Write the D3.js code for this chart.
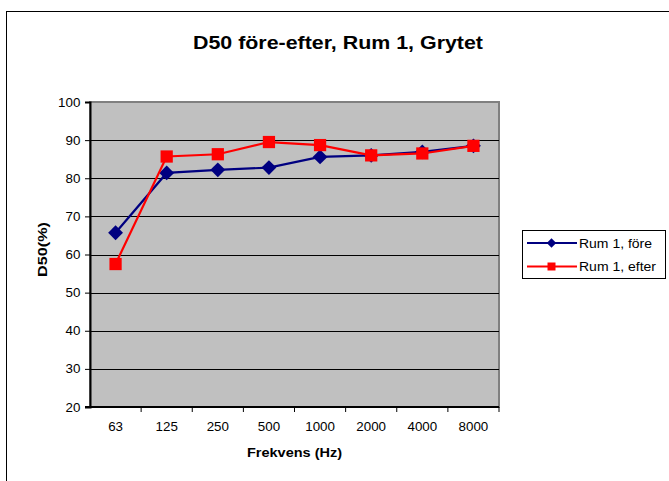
<!DOCTYPE html>
<html>
<head>
<meta charset="utf-8">
<script src="https://cdn.jsdelivr.net/npm/d3@7"></script>
<style>
  html, body { margin: 0; padding: 0; background: #fff; }
  svg { display: block; }
  text { font-family: Arial, "Liberation Sans", sans-serif; fill: #000; }
</style>
</head>
<body>
<svg id="chart" width="669" height="481"></svg>
<script>
// Frequency bands (Hz)
const categories = ["63", "125", "250", "500", "1000", "2000", "4000", "8000"];
// D50 (%) per band
const foreValues  = [65.7, 81.4, 82.2, 82.8, 85.6, 86.0, 86.9, 88.5];
const efterValues = [57.5, 85.7, 86.3, 89.5, 88.7, 86.0, 86.5, 88.5];
const seriesNames = ["Rum 1, före", "Rum 1, efter"];
const yTicks = [20, 30, 40, 50, 60, 70, 80, 90, 100];

const svg = d3.select("#chart");
const TXT = 12.5;   // base text size
const WIDE = 1.07;  // horizontal stretch of the label face

// Outer chart frame
svg.append("rect")
  .attr("x", 6.5).attr("y", 11.5)
  .attr("width", 700).attr("height", 500)
  .attr("fill", "#fff").attr("stroke", "#000").attr("stroke-width", 1);

const plot = { left: 90, top: 102, right: 499, bottom: 407 };

const x = d3.scaleBand().domain(categories).range([plot.left, plot.right]).padding(0);
const y = d3.scaleLinear().domain([20, 100]).range([plot.bottom, plot.top]);

// Plot background
svg.append("rect")
  .attr("x", plot.left).attr("y", plot.top)
  .attr("width", plot.right - plot.left).attr("height", plot.bottom - plot.top)
  .attr("fill", "#c0c0c0").attr("stroke", "#808080").attr("stroke-width", 2);

// Horizontal gridlines
svg.append("g")
  .selectAll("line")
  .data(yTicks.filter(t => t > 20 && t < 100))
  .join("line")
  .attr("x1", plot.left).attr("x2", plot.right)
  .attr("y1", d => Math.round(y(d)) + 0.5).attr("y2", d => Math.round(y(d)) + 0.5)
  .attr("stroke", "#000").attr("stroke-width", 1);

// Y axis
const yAxis = svg.append("g")
  .attr("transform", `translate(${plot.left},0)`)
  .call(d3.axisLeft(y).tickValues(yTicks).tickSize(5).tickPadding(4));
yAxis.select(".domain").attr("stroke", "#000").attr("stroke-width", 2);
yAxis.selectAll(".tick line").attr("stroke", "#000");
yAxis.selectAll(".tick text")
  .attr("font-size", TXT).attr("fill", "#000")
  .attr("font-family", "Arial, 'Liberation Sans', sans-serif")
  .attr("transform", `scale(${WIDE},1)`);

// X axis: ticks at category boundaries, labels centered in each band
const xAxis = svg.append("g").attr("transform", `translate(0,${plot.bottom})`);
xAxis.append("line")
  .attr("x1", plot.left - 5).attr("x2", plot.right)
  .attr("y1", 0).attr("y2", 0)
  .attr("stroke", "#000").attr("stroke-width", 2);
xAxis.selectAll("line.tk")
  .data(categories.slice(1).concat(["end"]))
  .join("line")
  .attr("class", "tk")
  .attr("x1", (d, i) => i < categories.length - 1 ? x(d) : plot.right)
  .attr("x2", (d, i) => i < categories.length - 1 ? x(d) : plot.right)
  .attr("y1", 0).attr("y2", 5)
  .attr("stroke", "#000");
xAxis.selectAll("g.lbl")
  .data(categories)
  .join("g")
  .attr("class", "lbl")
  .attr("transform", d => `translate(${x(d) + x.bandwidth() / 2},24) scale(${WIDE},1)`)
  .append("text")
  .attr("text-anchor", "middle")
  .attr("font-size", TXT)
  .text(d => d);

// Axis titles
svg.append("text")
  .attr("x", (plot.left + plot.right) / 2).attr("y", 457)
  .attr("text-anchor", "middle")
  .attr("font-size", TXT).attr("font-weight", "bold")
  .attr("textLength", 95).attr("lengthAdjust", "spacingAndGlyphs")
  .text("Frekvens (Hz)");
svg.append("text")
  .attr("transform", `translate(47,${(plot.top + plot.bottom) / 2 - 5}) rotate(-90)`)
  .attr("text-anchor", "middle")
  .attr("font-size", TXT).attr("font-weight", "bold")
  .attr("textLength", 55).attr("lengthAdjust", "spacingAndGlyphs")
  .text("D50(%)");

// Title
svg.append("text")
  .attr("x", 338).attr("y", 49)
  .attr("text-anchor", "middle")
  .attr("font-size", 18.5).attr("font-weight", "bold")
  .attr("textLength", 290).attr("lengthAdjust", "spacingAndGlyphs")
  .text("D50 före-efter, Rum 1, Grytet");

const cx = d => x(d) + x.bandwidth() / 2;
const line = d3.line().x(d => cx(d.c)).y(d => y(d.v));

const series = [
  { name: seriesNames[0], values: foreValues, color: "#000080", size: 110, rot: 45, legendLen: 73 },
  { name: seriesNames[1], values: efterValues, color: "#ff0000", size: 150, rot: 0, legendLen: 77 }
];

series.forEach(s => {
  const pts = categories.map((c, i) => ({ c, v: s.values[i] }));
  svg.append("path")
    .datum(pts)
    .attr("d", line)
    .attr("fill", "none")
    .attr("stroke", s.color)
    .attr("stroke-width", 2.2);
  svg.append("g")
    .selectAll("path")
    .data(pts)
    .join("path")
    .attr("d", d3.symbol().type(d3.symbolSquare).size(s.size))
    .attr("transform", d => `translate(${cx(d.c)},${y(d.v)}) rotate(${s.rot})`)
    .attr("fill", s.color);
});

// Legend
const legend = svg.append("g");
legend.append("rect")
  .attr("x", 522.5).attr("y", 230.5)
  .attr("width", 143).attr("height", 48)
  .attr("fill", "#fff").attr("stroke", "#000");
series.forEach((s, i) => {
  const ly = 243 + i * 23.5;
  legend.append("line")
    .attr("x1", 527).attr("x2", 577)
    .attr("y1", ly).attr("y2", ly)
    .attr("stroke", s.color).attr("stroke-width", 2.2);
  legend.append("path")
    .attr("transform", `translate(551.5,${ly}) rotate(${s.rot})`)
    .attr("d", d3.symbol().type(d3.symbolSquare).size(s.rot ? 45 : 64))
    .attr("fill", s.color);
  legend.append("text")
    .attr("x", 579).attr("y", ly + 4.5)
    .attr("font-size", TXT)
    .attr("textLength", s.legendLen).attr("lengthAdjust", "spacingAndGlyphs")
    .text(s.name);
});
</script>
</body>
</html>
